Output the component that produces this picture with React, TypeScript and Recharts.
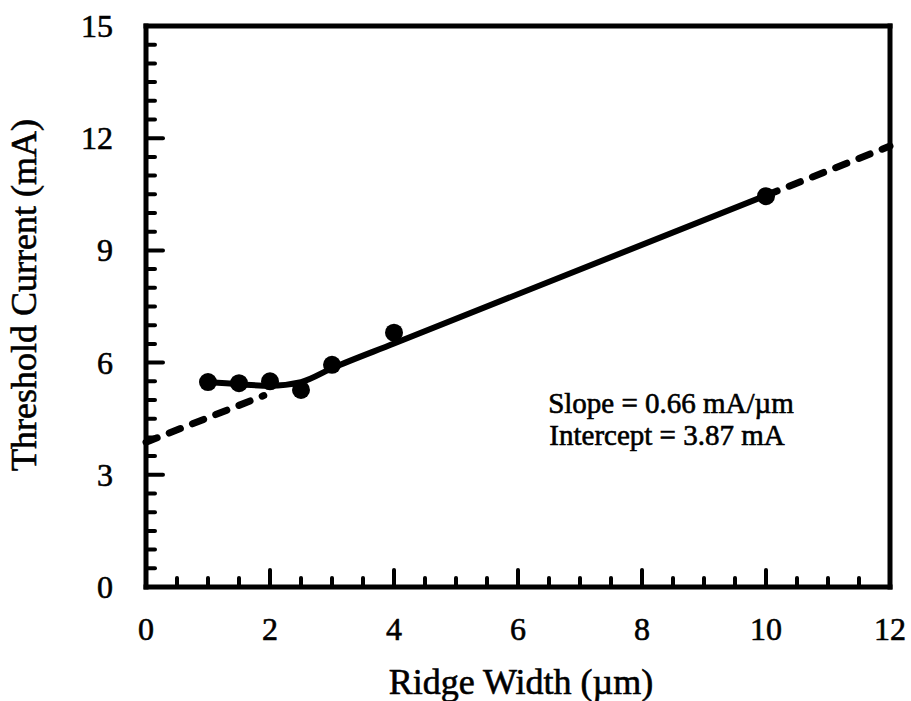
import {
    ComposedChart,
    Line,
    Scatter,
    XAxis,
    YAxis,
} from "recharts";

// Measured threshold current vs ridge width
const ridgeWidths = [1, 1.5, 2, 2.5, 3, 4, 10];
const thresholdCurrents = [5.48, 5.45, 5.5, 5.27, 5.94, 6.8, 10.45];

// Solid guide through the data
const solidX = [1, 1.5, 2, 2.5, 3, 4, 10];
const solidY = [5.48, 5.42, 5.38, 5.48, 5.85, 6.51, 10.47];

// Dashed linear extrapolations (slope 0.66, intercept 3.87)
const dashLowX = [0, 1.9];
const dashLowY = [3.87, 5.12];
const dashHighX = [10, 12];
const dashHighY = [10.47, 11.79];

// Axis ticks
const xMajor = [0, 2, 4, 6, 8, 10, 12];
const xMinor = [0, 0.5, 1, 1.5, 2, 2.5, 3, 3.5, 4, 4.5, 5, 5.5, 6, 6.5, 7, 7.5, 8, 8.5, 9, 9.5, 10, 10.5, 11, 11.5, 12];
const yMajor = [0, 3, 6, 9, 12, 15];
const yMinor = [0, 0.5, 1, 1.5, 2, 2.5, 3, 3.5, 4, 4.5, 5, 5.5, 6, 6.5, 7, 7.5, 8, 8.5, 9, 9.5, 10, 10.5, 11, 11.5, 12, 12.5, 13, 13.5, 14, 14.5, 15];

const FONT = "'Liberation Serif', 'Times New Roman', serif";

const toPoints = (xs: number[], ys: number[]) => xs.map((x, i) => ({ x, y: ys[i] }));

const points = toPoints(ridgeWidths, thresholdCurrents);
const solid = toPoints(solidX, solidY);
const dashLow = toPoints(dashLowX, dashLowY);
const dashHigh = toPoints(dashHighX, dashHighY);

const tickStyle = { stroke: "#000", strokeWidth: 4, strokeLinecap: "round" as const };
// slightly heavy serif text
const textStyle = { fontFamily: FONT, fill: "#000", stroke: "#000", strokeWidth: 0.6 };

const BottomTick = ({ x, y, payload }: any) => {
    const v = payload.value;
    const major = xMajor.includes(v);
    return (
        <g>
            {v > 0 && v < 12 && <line x1={x} x2={x} y1={y} y2={y - (major ? 17 : 9)} {...tickStyle} />}
            {major && (
                <text x={x} y={y + 53} textAnchor="middle" fontSize={32} {...textStyle}>
                    {v}
                </text>
            )}
        </g>
    );
};

const TopTick = ({ x, y, payload }: any) => {
    const v = payload.value;
    const major = xMajor.includes(v);
    if (v <= 0 || v >= 12) return <g />;
    return <line x1={x} x2={x} y1={y} y2={y + (major ? 17 : 9)} {...tickStyle} />;
};

const LeftTick = ({ x, y, payload }: any) => {
    const v = payload.value;
    const major = yMajor.includes(v);
    return (
        <g>
            {v > 0 && v < 15 && <line x1={x} x2={x + (major ? 17 : 9)} y1={y} y2={y} {...tickStyle} />}
            {major && (
                <text x={x - 33} y={y + 11} textAnchor="end" fontSize={32} {...textStyle}>
                    {v}
                </text>
            )}
        </g>
    );
};

const RightTick = ({ x, y, payload }: any) => {
    const v = payload.value;
    const major = yMajor.includes(v);
    if (v <= 0 || v >= 15) return <g />;
    return <line x1={x} x2={x - (major ? 17 : 9)} y1={y} y2={y} {...tickStyle} />;
};

const frame = { stroke: "#000", strokeWidth: 5, strokeLinecap: "square" as const };

export default function App() {
    return (
        <div style={{ position: "absolute", left: 0, top: 0, background: "#fff" }}>
            <ComposedChart
                width={911}
                height={701}
                margin={{ top: 25, right: 20, bottom: 54, left: 86 }}
            >
                <XAxis
                    xAxisId="b"
                    dataKey="x"
                    type="number"
                    domain={[0, 12]}
                    ticks={xMinor}
                    interval={0}
                    height={60}
                    tickSize={0}
                    tickMargin={0}
                    tickLine={false}
                    axisLine={frame}
                    tick={<BottomTick />}
                />
                <XAxis
                    xAxisId="t"
                    orientation="top"
                    dataKey="x"
                    type="number"
                    domain={[0, 12]}
                    ticks={xMinor}
                    interval={0}
                    height={1}
                    tickSize={0}
                    tickMargin={0}
                    tickLine={false}
                    axisLine={frame}
                    tick={<TopTick />}
                />
                <YAxis
                    yAxisId="l"
                    type="number"
                    domain={[0, 15]}
                    ticks={yMinor}
                    interval={0}
                    width={60}
                    tickSize={0}
                    tickMargin={0}
                    tickLine={false}
                    axisLine={frame}
                    tick={<LeftTick />}
                />
                <YAxis
                    yAxisId="r"
                    orientation="right"
                    type="number"
                    domain={[0, 15]}
                    ticks={yMinor}
                    interval={0}
                    width={1}
                    tickSize={0}
                    tickMargin={0}
                    tickLine={false}
                    axisLine={frame}
                    tick={<RightTick />}
                />

                <Line
                    xAxisId="b"
                    yAxisId="l"
                    data={dashLow}
                    dataKey="y"
                    type="linear"
                    stroke="#000"
                    strokeWidth={7}
                    strokeDasharray="12 13"
                    strokeLinecap="round"
                    dot={false}
                    isAnimationActive={false}
                />
                <Line
                    xAxisId="b"
                    yAxisId="l"
                    data={dashHigh}
                    dataKey="y"
                    type="linear"
                    stroke="#000"
                    strokeWidth={7}
                    strokeDasharray="12 13"
                    strokeLinecap="round"
                    dot={false}
                    isAnimationActive={false}
                />
                <Line
                    xAxisId="b"
                    yAxisId="l"
                    data={solid}
                    dataKey="y"
                    type="monotone"
                    stroke="#000"
                    strokeWidth={6}
                    dot={false}
                    isAnimationActive={false}
                />
                <Scatter
                    xAxisId="b"
                    yAxisId="l"
                    data={points}
                    dataKey="y"
                    fill="#000"
                    isAnimationActive={false}
                    shape={(p: any) => <circle cx={p.cx} cy={p.cy} r={9} fill="#000" />}
                />

                <text
                    transform="translate(36,295) rotate(-90)"
                    textAnchor="middle"
                    fontSize={36}
                    {...textStyle}
                >
                    Threshold Current (mA)
                </text>
                <text x={521} y={694} textAnchor="middle" fontSize={36} {...textStyle}>
                    Ridge Width (µm)
                </text>
                <text x={671} y={413} textAnchor="middle" fontSize={29} {...textStyle}>
                    Slope = 0.66 mA/µm
                </text>
                <text x={667} y={445} textAnchor="middle" fontSize={29} {...textStyle}>
                    Intercept = 3.87 mA
                </text>
            </ComposedChart>
        </div>
    );
}
